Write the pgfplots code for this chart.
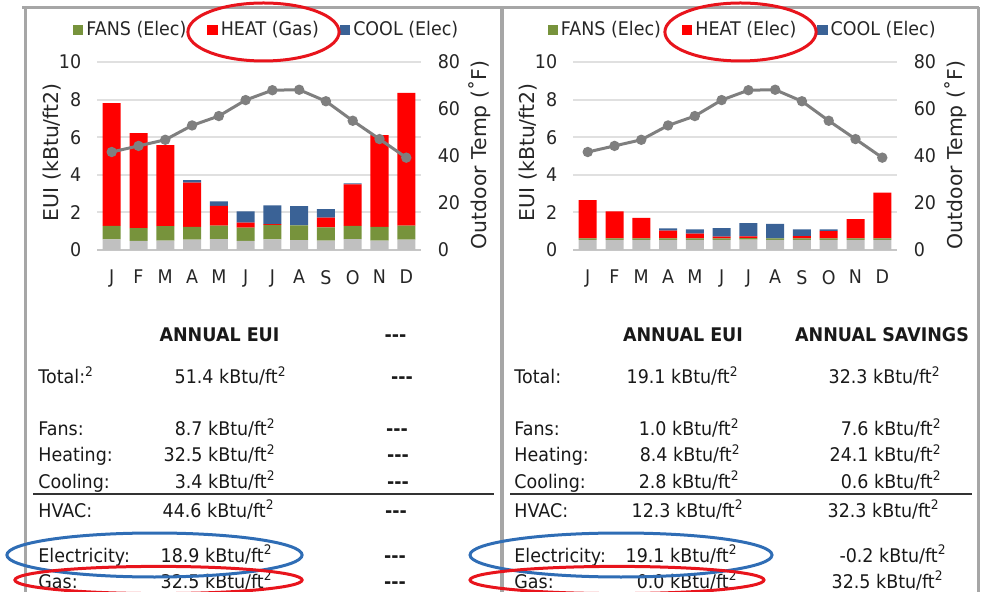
\documentclass[border=0pt]{standalone}
\usepackage{pgfplots}
\pgfplotsset{compat=1.18}
\usepackage{pgfplotstable}
\usepackage{fontspec}
\setmainfont{DejaVu Sans}[FakeStretch=0.93]
\newfontfamily\labfont{DejaVu Sans}
\definecolor{fansg}{HTML}{77933C}
\definecolor{heatr}{HTML}{FF0000}
\definecolor{coolb}{HTML}{3A6296}
\definecolor{baseg}{HTML}{C0C0C0}
\definecolor{tline}{HTML}{7F7F7F}
\definecolor{gridc}{HTML}{E0E0E0}
\definecolor{ellr}{HTML}{E8141C}
\definecolor{ellb}{HTML}{2F6DB5}
\definecolor{framec}{HTML}{A6A6A6}
\newcommand\tf{\fontsize{9.4pt}{11pt}\selectfont}
\newcommand\lf{\labfont\fontsize{10.2pt}{12pt}\selectfont}

\pgfplotstableread{
x gray fans heat cool temp
0 0.57 0.71 6.53 0.00 41.7
1 0.49 0.67 5.05 0.00 44.3
2 0.50 0.77 4.31 0.00 46.9
3 0.55 0.68 2.35 0.13 53.0
4 0.58 0.71 1.06 0.24 57.0
5 0.48 0.71 0.26 0.61 63.8
6 0.57 0.77 0.03 1.01 68.0
7 0.53 0.78 0.00 1.03 68.2
8 0.50 0.70 0.52 0.46 63.3
9 0.58 0.70 2.21 0.05 55.0
10 0.50 0.73 4.88 0.00 47.2
11 0.55 0.74 7.07 0.00 39.3
}\gasdata

\pgfplotstableread{
x gray fans heat cool temp
0 0.54 0.08 2.03 0.00 41.7
1 0.54 0.08 1.44 0.00 44.3
2 0.54 0.08 1.09 0.00 46.9
3 0.54 0.08 0.41 0.12 53.0
4 0.54 0.08 0.25 0.23 57.0
5 0.54 0.08 0.09 0.46 63.8
6 0.55 0.08 0.10 0.70 68.0
7 0.54 0.08 0.00 0.77 68.2
8 0.54 0.08 0.12 0.36 63.3
9 0.54 0.08 0.39 0.09 55.0
10 0.54 0.08 1.02 0.00 47.2
11 0.54 0.08 2.43 0.00 39.3
}\elecdata

\pgfplotsset{
  common/.style={scale only axis, width=162pt, height=94pt,
    xmin=-0.55, xmax=11.55, anchor=south west,
    major tick length=0pt,
    tick label style={font=\tf, text=black!85},
    /pgf/number format/assume math mode=true},
  eui/.style={common, ymin=0, ymax=10,
    ybar stacked, bar width=9pt,
    xtick={0,...,11}, xticklabels={J,F,M,A,M,J,J,A,S,O,N,D},
    ytick={0,2,...,10},
    ymajorgrids, grid style={gridc, line width=1pt},
    axis x line*=bottom, axis y line*=left,
    y axis line style={draw=none},
    x axis line style={draw=gray!45, line width=1pt},
    xticklabel style={yshift=-6.5pt},
    yticklabel style={xshift=-4.4pt},
    ylabel={EUI (kBtu/ft2)},
    ylabel style={font=\lf, text=black!85, at={(axis description cs:-0.14,0.52)}, anchor=center},
    legend style={at={(axis description cs:0.525,1.17)}, anchor=center,
      draw=none, fill=none, legend columns=3, font=\tf, text=black!85,
      /tikz/every even column/.append style={column sep=9pt},
      nodes={inner sep=1.5pt}},
    legend image code/.code={\fill[##1] (0pt,-2.6pt) rectangle (5.2pt,2.6pt);}},
  temp/.style={common, ymin=0, ymax=80,
    axis x line=none, axis y line*=right,
    y axis line style={draw=none},
    ytick={0,20,...,80},
    yticklabel style={xshift=4.9pt},
    ylabel={Outdoor Temp (˚F)},
    ylabel style={font=\lf, text=black!85, at={(axis description cs:1.18,0.505)}, anchor=center}},
}

\begin{document}
\begin{tikzpicture}
\useasboundingbox (0pt,0pt) rectangle (492pt,-296pt);
\clip (0pt,0pt) rectangle (492pt,-296pt);

\begin{scope}[x=0.5pt,y=-0.5pt]
\draw[framec, line width=1.5pt] (22,7.5) -- (979,7.5);
\draw[framec, line width=1.5pt] (25.5,7.5) -- (25.5,600);
\draw[framec, line width=2pt] (501.5,7.5) -- (501.5,600);
\draw[framec, line width=1.5pt] (978,7.5) -- (978,600);
\end{scope}

% ---------------- left chart (gas heat)
\begin{axis}[eui, at={(48.5pt,-125pt)}]
\addplot[fill=baseg, draw=none, forget plot] table[x=x,y=gray]{\gasdata};
\addplot[fill=fansg, draw=none] table[x=x,y=fans]{\gasdata};
\addlegendentry{FANS (Elec)}
\addplot[fill=heatr, draw=none] table[x=x,y=heat]{\gasdata};
\addlegendentry{HEAT (Gas)}
\addplot[fill=coolb, draw=none] table[x=x,y=cool]{\gasdata};
\addlegendentry{COOL (Elec)}
\end{axis}
\begin{axis}[temp, at={(48.5pt,-125pt)}]
\addplot[tline, line width=1.5pt, mark=*, mark size=1.8pt, mark options={fill=tline, draw=tline}] table[x=x,y=temp]{\gasdata};
\end{axis}

% ---------------- right chart (electric heat)
\begin{axis}[eui, at={(286.5pt,-125pt)}]
\addplot[fill=baseg, draw=none, forget plot] table[x=x,y=gray]{\elecdata};
\addplot[fill=fansg, draw=none] table[x=x,y=fans]{\elecdata};
\addlegendentry{FANS (Elec)}
\addplot[fill=heatr, draw=none] table[x=x,y=heat]{\elecdata};
\addlegendentry{HEAT (Elec)}
\addplot[fill=coolb, draw=none] table[x=x,y=cool]{\elecdata};
\addlegendentry{COOL (Elec)}
\end{axis}
\begin{axis}[temp, at={(286.5pt,-125pt)}]
\addplot[tline, line width=1.5pt, mark=*, mark size=1.8pt, mark options={fill=tline, draw=tline}] table[x=x,y=temp]{\elecdata};
\end{axis}

\begin{scope}[x=0.5pt,y=-0.5pt,
  lab/.style={anchor=base west, font=\tf, inner sep=0pt, text=black!90},
  val/.style={anchor=base east, font=\tf, inner sep=0pt, text=black!90},
  hdr/.style={anchor=base, font=\tf\bfseries, inner sep=0pt, text=black!90},
  dsh/.style={anchor=base, font=\tf\bfseries, inner sep=0pt, text=black!90}]
% left table
\node[hdr] at (219.5,342) {ANNUAL EUI};
\node[dsh] at (395.5,342) {-{}-{}-};
\node[lab] at (38,384) {Total:\textsuperscript{2}};
\node[val] at (287,384) {51.4 kBtu/ft\textsuperscript{2}};
\node[dsh] at (402,384) {-{}-{}-};
\node[lab] at (38,436) {Fans:};
\node[val] at (276,436) {8.7 kBtu/ft\textsuperscript{2}};
\node[dsh] at (397,436) {-{}-{}-};
\node[lab] at (38,462) {Heating:};
\node[val] at (276,462) {32.5 kBtu/ft\textsuperscript{2}};
\node[dsh] at (398,462) {-{}-{}-};
\node[lab] at (38,488) {Cooling:};
\node[val] at (276,488) {3.4 kBtu/ft\textsuperscript{2}};
\node[dsh] at (398,488) {-{}-{}-};
\draw[black!80, line width=1pt] (33,494) -- (494,494);
\node[lab] at (38,517) {HVAC:};
\node[val] at (275,517) {44.6 kBtu/ft\textsuperscript{2}};
\node[dsh] at (396,517) {-{}-{}-};
\node[lab] at (38,562) {Electricity:};
\node[val] at (273,562) {18.9 kBtu/ft\textsuperscript{2}};
\node[dsh] at (395,562) {-{}-{}-};
\node[lab] at (38,588) {Gas:};
\node[val] at (273,588) {32.5 kBtu/ft\textsuperscript{2}};
\node[dsh] at (395,588) {-{}-{}-};
% right table
\node[hdr] at (683,342) {ANNUAL EUI};
\node[hdr] at (882,342) {ANNUAL SAVINGS};
\node[lab] at (514,384) {Total:};
\node[val] at (739,384) {19.1 kBtu/ft\textsuperscript{2}};
\node[val] at (941,384) {32.3 kBtu/ft\textsuperscript{2}};
\node[lab] at (514,436) {Fans:};
\node[val] at (740,436) {1.0 kBtu/ft\textsuperscript{2}};
\node[val] at (942,436) {7.6 kBtu/ft\textsuperscript{2}};
\node[lab] at (514,462) {Heating:};
\node[val] at (741,462) {8.4 kBtu/ft\textsuperscript{2}};
\node[val] at (942,462) {24.1 kBtu/ft\textsuperscript{2}};
\node[lab] at (514,488) {Cooling:};
\node[val] at (740,488) {2.8 kBtu/ft\textsuperscript{2}};
\node[val] at (942,488) {0.6 kBtu/ft\textsuperscript{2}};
\draw[black!80, line width=1pt] (510,494) -- (972,494);
\node[lab] at (514,517) {HVAC:};
\node[val] at (744,517) {12.3 kBtu/ft\textsuperscript{2}};
\node[val] at (940,517) {32.3 kBtu/ft\textsuperscript{2}};
\node[lab] at (514,562) {Electricity:};
\node[val] at (738,562) {19.1 kBtu/ft\textsuperscript{2}};
\node[val] at (947,562) {-0.2 kBtu/ft\textsuperscript{2}};
\node[lab] at (514,588) {Gas:};
\node[val] at (738,588) {0.0 kBtu/ft\textsuperscript{2}};
\node[val] at (944,588) {32.5 kBtu/ft\textsuperscript{2}};
% ellipses
\draw[ellr, line width=1.5pt] (263.5,32) ellipse [x radius=37.8pt, y radius=14.5pt];
\draw[ellr, line width=1.5pt] (740.5,32) ellipse [x radius=37.8pt, y radius=14.5pt];
\draw[ellb, line width=1.5pt] (154.5,555) ellipse [x radius=73.8pt, y radius=11pt];
\draw[ellb, line width=1.5pt] (621,555) ellipse [x radius=75.5pt, y radius=11pt];
\draw[ellr, line width=1.5pt] (158.5,580) ellipse [x radius=71.8pt, y radius=6.8pt];
\draw[ellr, line width=1.5pt] (617,580) ellipse [x radius=73.5pt, y radius=6.8pt];
\end{scope}
\end{tikzpicture}
\end{document}
